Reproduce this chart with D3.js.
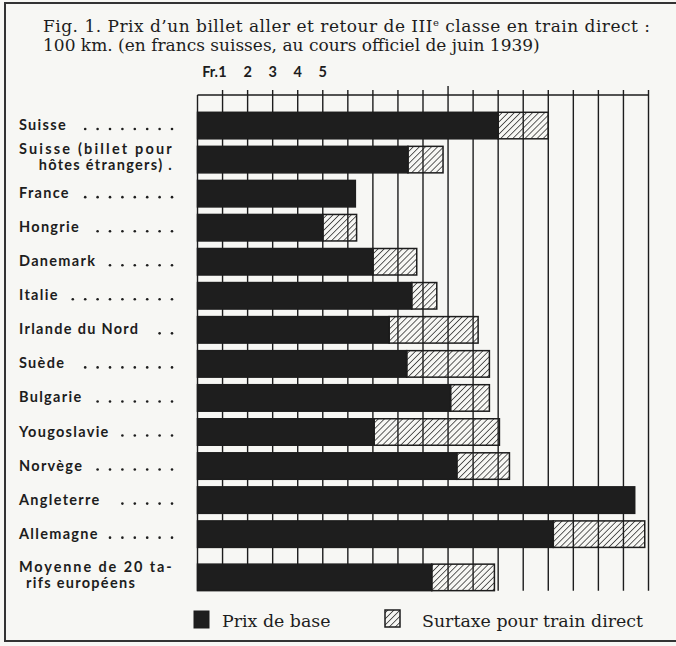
<!DOCTYPE html>
<html>
<head>
<meta charset="utf-8">
<script src="https://cdn.jsdelivr.net/npm/d3@7"></script>
<style>
  body { margin: 0; background: #f7f7f4; }
  svg { display: block; }
</style>
</head>
<body>
<div id="chart"></div>
<script>
// rows, top to bottom (a "\n" splits the label on two lines)
const categories = [
  "Suisse",
  "Suisse (billet pour\nhôtes étrangers) .",
  "France",
  "Hongrie",
  "Danemark",
  "Italie",
  "Irlande du Nord",
  "Suède",
  "Bulgarie",
  "Yougoslavie",
  "Norvège",
  "Angleterre",
  "Allemagne",
  "Moyenne de 20 ta-\nrifs européens"
];
// francs suisses
const basePrice = [12.0, 8.4, 6.3, 5.0, 7.0, 8.55, 7.65, 8.35, 10.1, 7.05, 10.35, 17.45, 14.2, 9.35];
const surcharge = [2.0, 1.4, 0, 1.35, 1.75, 1.0, 3.55, 3.3, 1.55, 5.0, 2.1, 0, 3.65, 2.5];

const gridValues = d3.range(0, 19);
const tickValues = [1, 2, 3, 4, 5];
const tickLabels = ["1", "2", "3", "4", "5"];
const titleLines = [
  "Fig. 1. Prix d\u2019un billet aller et retour de III",
  "100 km. (en francs suisses, au cours officiel de juin 1939)"
];
const legendLabels = ["Prix de base", "Surtaxe pour train direct"];

const width = 676;
const height = 646;
const ink = "#1d1d1d";

const svg = d3
  .select("#chart")
  .append("svg")
  .attr("width", width)
  .attr("height", height);

const defs = svg.append("defs");
defs.append("pattern")
  .attr("id", "hatch")
  .attr("patternUnits", "userSpaceOnUse")
  .attr("width", 4.3)
  .attr("height", 4.3)
  .attr("patternTransform", "rotate(45)")
  .append("line")
  .attr("x1", 0).attr("y1", 0)
  .attr("x2", 0).attr("y2", 4.3)
  .attr("stroke", ink)
  .attr("stroke-width", 1.4);

// frame (left, top, bottom)
svg.append("path")
  .attr("d", `M${width + 2},3H5V641H${width + 2}`)
  .attr("fill", "none")
  .attr("stroke", "#333")
  .attr("stroke-width", 2);

// title
const title = svg.append("g")
  .attr("font-family", "'DejaVu Serif', serif")
  .attr("font-size", 17)
  .attr("fill", ink);

const t1 = title.append("text")
  .attr("x", 43)
  .attr("y", 32)
  .attr("textLength", 607)
  .attr("lengthAdjust", "spacing");
t1.append("tspan").text(titleLines[0]);
t1.append("tspan").attr("dy", -6).attr("font-size", 10).text("e");
t1.append("tspan").attr("dy", 6).text(" classe en train direct :");

title.append("text")
  .attr("x", 43)
  .attr("y", 51)
  .text(titleLines[1]);

// scales
const x = d3.scaleLinear().domain([0, 18]).range([197.5, 648.5]);
const slot = (i) => (i < 13 ? i : i + 0.27); // small gap before the average
const y = d3.scaleLinear().domain([0, 1]).range([112.3, 146.35]);
const barH = 26.5;
const gridTop = 95;
const gridBottom = y(slot(13)) + barH;

// grid + ticks above the top rule
const grid = svg.append("g")
  .attr("stroke", ink)
  .attr("stroke-width", 1.4);

grid.selectAll("line.grid")
  .data(gridValues)
  .join("line")
  .attr("class", "grid")
  .attr("x1", d => x(d)).attr("x2", d => x(d))
  .attr("y1", d => (d === 0 ? gridTop : d === 10 ? gridTop - 9 : gridTop - 5))
  .attr("y2", gridBottom);

grid.append("line")
  .attr("x1", x(0)).attr("x2", x(18))
  .attr("y1", gridTop).attr("y2", gridTop);

// tick labels
const ticks = svg.append("g")
  .attr("font-family", "Lato, 'DejaVu Sans', sans-serif")
  .attr("font-weight", "bold")
  .attr("font-size", 14.5)
  .attr("fill", ink)
  .attr("text-anchor", "middle");

ticks.selectAll("text")
  .data(tickValues)
  .join("text")
  .attr("x", d => x(d))
  .attr("y", 77)
  .text((d, i) => tickLabels[i]);

ticks.append("text")
  .attr("x", x(1) - 4.5)
  .attr("y", 77)
  .attr("text-anchor", "end")
  .text("Fr.");

// bars
const rows = categories.map((c, i) => ({
  name: c,
  base: basePrice[i],
  extra: surcharge[i],
  top: y(slot(i))
}));

const bars = svg.append("g")
  .attr("stroke", ink)
  .attr("stroke-width", 1.5);

bars.selectAll("rect.base")
  .data(rows)
  .join("rect")
  .attr("class", "base")
  .attr("x", x(0))
  .attr("y", d => d.top)
  .attr("width", d => x(d.base) - x(0))
  .attr("height", barH)
  .attr("fill", "#1e1e1e");

bars.selectAll("rect.extra")
  .data(rows.filter(d => d.extra > 0))
  .join("rect")
  .attr("class", "extra")
  .attr("x", d => x(d.base))
  .attr("y", d => d.top)
  .attr("width", d => x(d.base + d.extra) - x(d.base))
  .attr("height", barH)
  .attr("fill", "url(#hatch)");

// category labels with leader dots
const labelX = 19;
const labelRight = 173;
const labels = svg.append("g")
  .attr("font-family", "Lato, 'DejaVu Sans', sans-serif")
  .attr("font-weight", "bold")
  .attr("font-size", 14.5)
  .attr("letter-spacing", 1.3)
  .attr("fill", ink);

rows.forEach((d) => {
  const mid = d.top + barH / 2;
  const lines = d.name.split("\n");
  if (lines.length === 2) {
    labels.append("text")
      .attr("x", labelX)
      .attr("y", mid - 5.5)
      .attr("textLength", labelRight - labelX)
      .attr("lengthAdjust", "spacing")
      .text(lines[0]);
    const second = labels.append("text")
      .attr("y", mid + 10.5)
      .text(lines[1]);
    if (lines[1].endsWith(".")) {
      second.attr("x", labelRight).attr("text-anchor", "end");
    } else {
      second.attr("x", labelX + 7);
    }
    return;
  }
  const t = labels.append("text")
    .attr("x", labelX)
    .attr("y", mid + 4.5)
    .text(lines[0]);
  const end = labelX + t.node().getComputedTextLength();
  const dots = [];
  for (let dx = labelRight - 1; dx > end + 10; dx -= 12.4) dots.push(dx);
  labels.selectAll(null)
    .data(dots)
    .enter()
    .append("circle")
    .attr("cx", v => v)
    .attr("cy", mid + 3.5)
    .attr("r", 1.3);
});

// legend
const legend = svg.append("g")
  .attr("font-family", "'DejaVu Serif', serif")
  .attr("font-size", 17.4)
  .attr("fill", ink);

legend.append("rect")
  .attr("x", 194).attr("y", 611)
  .attr("width", 15).attr("height", 17)
  .attr("fill", "#1e1e1e")
  .attr("stroke", ink);
legend.append("text")
  .attr("x", 222).attr("y", 627)
  .text(legendLabels[0]);

legend.append("rect")
  .attr("x", 385).attr("y", 610)
  .attr("width", 15).attr("height", 17)
  .attr("fill", "url(#hatch)")
  .attr("stroke", ink)
  .attr("stroke-width", 1.5);
legend.append("text")
  .attr("x", 422).attr("y", 627)
  .text(legendLabels[1]);
</script>
</body>
</html>
